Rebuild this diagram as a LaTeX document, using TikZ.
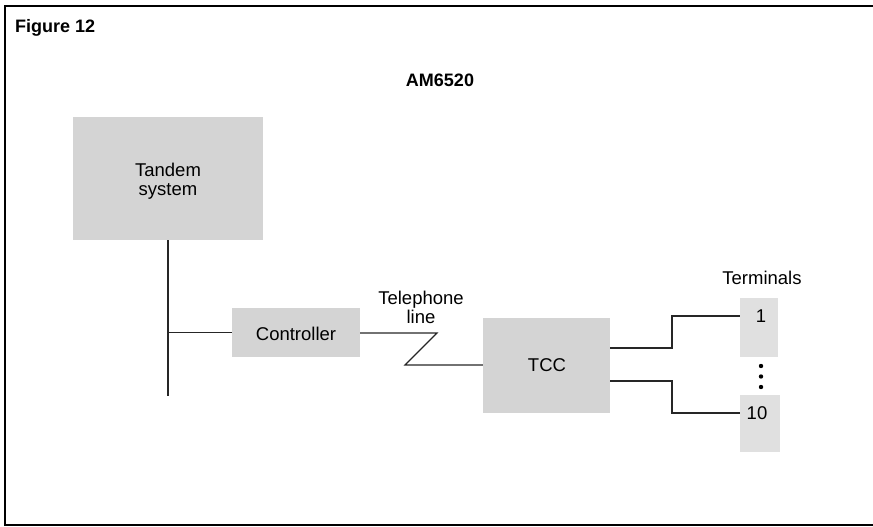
\documentclass[tikz,border=0pt]{standalone}
\usepackage{fontspec}
\setmainfont{Liberation Sans}
\begin{document}
\begin{tikzpicture}[x=1pt,y=-1pt,
  stip/.style={fill=black!17, draw=none, inner sep=0pt},
  stipl/.style={fill=black!12, draw=none, inner sep=0pt},
  lbl/.style={font=\fontsize{18.5}{19}\selectfont, inner sep=0pt, align=center},
  ttl/.style={font=\fontsize{18}{19}\selectfont\bfseries, inner sep=0pt},
  wire/.style={line width=1.2pt, black!85},
  frame/.style={line width=1.6pt}]
\useasboundingbox (0,0) rectangle (873,527);
% frame
\draw[frame] (873,6) -- (5,6) -- (5,525) -- (873,525);
% titles
\node[ttl, anchor=base west] (fig) at (15,33) {Figure 12};
\node[ttl, anchor=base] (am) at (440,87) {AM6520};
% boxes
\node[stip, minimum width=190, minimum height=123] (tandem) at (168,178.5) {};
\node[lbl] (tandemlab) at (168,181) {Tandem\\system};
\node[stip, minimum width=128, minimum height=49] (ctrl) at (296,332.5) {};
\node[lbl] (ctrllab) at (296,334) {Controller};
\node[stip, minimum width=127, minimum height=95] (tcc) at (546.5,365.5) {};
\node[lbl] (tcclab) at (547,365) {TCC};
\node[stipl, minimum width=38, minimum height=59, anchor=north] (t1) at (759,298) {};
\node[lbl] (t1lab) at (761,316) {1};
\node[stipl, minimum width=40, minimum height=57, anchor=north] (t10) at (760,395) {};
\node[lbl] (t10lab) at (757,413) {10};
\node[lbl] (termlab) at (762,278) {Terminals};
\node[lbl] (tellab) at (421,307) {Telephone\\line};
% dots
\fill (761,366) circle (2.2) (761,376.5) circle (2.2) (761,387) circle (2.2);
% bus
\coordinate (busend) at (168,396);
\draw[wire] (tandem.south) -- (busend);
\draw[wire] (ctrl.west) -- (ctrl.west -| tandem.south);
% telephone line
\coordinate (z1) at (437,333);
\coordinate (z2) at (405,365);
\draw[wire] (ctrl.east |- z1) -- (z1) -- (z2) -- (z2 -| tcc.west);
% to terminals
\coordinate (o1) at (610,348);
\coordinate (o2) at (610,381);
\draw[wire] (o1) -- ++(62,0) |- (t1.west |- t1lab);
\draw[wire] (o2) -- ++(62,0) |- (t10.west |- t10lab);
\end{tikzpicture}
\end{document}
